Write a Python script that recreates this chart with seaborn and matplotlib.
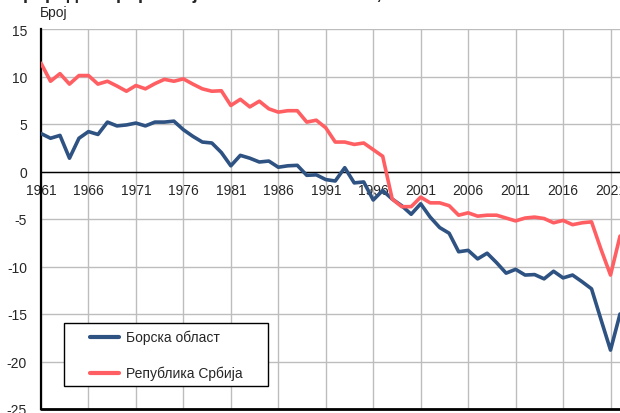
import numpy as np
import pandas as pd
import matplotlib.pyplot as plt
import seaborn as sns
from matplotlib.patches import Rectangle

### natural increase per 1000 inhabitants, Bor district vs Serbia

years = list(range(1961, 2023))

bor = [4.0, 3.5, 3.8, 1.4, 3.5, 4.2, 3.9, 5.2, 4.8, 4.9,
       5.1, 4.8, 5.2, 5.2, 5.3, 4.4, 3.7, 3.1, 3.0, 2.0,
       0.6, 1.7, 1.4, 1.0, 1.1, 0.45, 0.6, 0.65, -0.4, -0.35,
       -0.85, -1.0, 0.4, -1.2, -1.1, -3.0, -2.0, -2.9, -3.6, -4.5,
       -3.4, -4.8, -5.9, -6.5, -8.45, -8.3, -9.2, -8.6, -9.6, -10.7,
       -10.3, -10.9, -10.85, -11.3, -10.5, -11.2, -10.9, -11.6, -12.35, -15.6,
       -18.8, -15.0]

srb = [11.4, 9.5, 10.3, 9.2, 10.1, 10.1, 9.2, 9.5, 9.0, 8.45,
       9.05, 8.7, 9.25, 9.7, 9.5, 9.75, 9.2, 8.7, 8.45, 8.5,
       6.95, 7.6, 6.8, 7.4, 6.6, 6.25, 6.4, 6.4, 5.2, 5.4,
       4.6, 3.1, 3.1, 2.85, 3.0, 2.3, 1.6, -2.9, -3.7, -3.7,
       -2.7, -3.3, -3.3, -3.6, -4.6, -4.35, -4.7, -4.6, -4.6, -4.9,
       -5.2, -4.9, -4.8, -4.95, -5.4, -5.15, -5.6, -5.4, -5.3, -8.2,
       -10.9, -6.8]

series_names = ['Борска област', 'Република Србија']
colors       = ['#2E5282', '#FF5F62']
x_ticks      = list(range(1961, 2022, 5))
y_ticks      = list(range(-25, 16, 5))
title        = 'Природни прираштај на 1000 становника, 1961–2022.'

df = pd.DataFrame({'year': years * 2,
                   'value': bor + srb,
                   'region': [series_names[0]] * len(years) + [series_names[1]] * len(years)})

sns.set_style("white")
plt.rcParams['font.family'] = ['Liberation Sans', 'DejaVu Sans']

fig = plt.figure(figsize=(6.2, 4.14), dpi=100)
# axes run past the right edge, like the cropped original
ax  = fig.add_axes([41 / 620, 4 / 414, (629.5 - 41) / 620, 380 / 414])

sns.lineplot(data=df, x='year', y='value', hue='region', hue_order=series_names,
             palette=colors, linewidth=2.6, ax=ax, legend=False, zorder=3)

ax.set_xlim(1961, 2023)
ax.set_ylim(-25, 15)
ax.set_xticks(x_ticks)
ax.set_yticks(y_ticks)
ax.set_xticklabels([str(y) for y in x_ticks], fontsize=10)
ax.set_yticklabels([str(y) for y in y_ticks], fontsize=10)
ax.grid(True, color='#BDBDBD', linewidth=1.0, zorder=0)
ax.set_xlabel('')
ax.set_ylabel('')

# x axis crosses at zero
ax.spines['bottom'].set_position(('data', 0))
ax.spines['bottom'].set_linewidth(1.0)
ax.spines['bottom'].set_color('black')
ax.spines['left'].set_linewidth(1.6)
ax.spines['left'].set_color('black')
ax.spines['right'].set_visible(False)
ax.spines['top'].set_visible(False)
ax.axhline(-25, color='black', linewidth=2.0, clip_on=False, zorder=4)
ax.tick_params(axis='both', length=0)
ax.tick_params(axis='x', pad=8)
ax.tick_params(axis='y', pad=10)

# legend with a plain black box
handles = [plt.Line2D([], [], color=c, linewidth=3) for c in colors]
fig.add_artist(Rectangle((64 / 620, 1 - 387 / 414), 204 / 620, 63 / 414,
                         transform=fig.transFigure, facecolor='white',
                         edgecolor='black', linewidth=1.0, zorder=5))
leg = fig.legend(handles, series_names, loc='upper left',
                 bbox_to_anchor=(90 / 620, 1 - 331 / 414), frameon=False,
                 fontsize=10, handlelength=2.1, handletextpad=0.5,
                 labelspacing=1.55, borderpad=0, borderaxespad=0)
leg.set_zorder(6)

fig.text(40 / 620, 1 - 13 / 414, 'Број', fontsize=10, va='center', ha='left')
# title sits mostly above the cropped top edge
fig.text(10 / 620, 1 + 1 / 414, title, fontsize=13, fontweight='bold',
         va='baseline', ha='left')

fig.savefig('out.png', dpi=100)
